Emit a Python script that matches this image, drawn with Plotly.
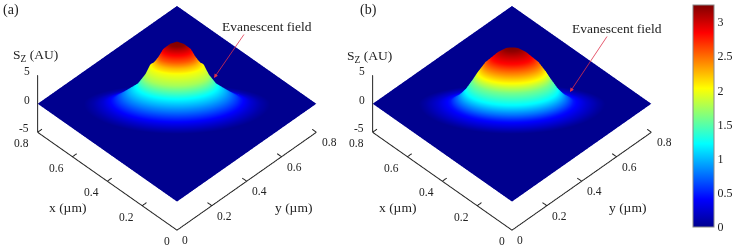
import numpy as np
import plotly.graph_objects as go

W, H = 734, 248
FONT = "Liberation Serif"
INK = "#222222"

# ----- values -----
radius_a = [0, .03, .057, .075, .089, .10, .11, .118, .13, .163, .20, .23, .26, .30, .34, .38]
height_a = [10.9, 10.4, 9.5, 8.2, 7.4, 6.9, 6.7, 6.0, 5.0, 3.2, 2.2, 1.4, .7, .2, 0, 0]
power_a = [3.25, 3.2, 2.9, 2.55, 2.25, 2.1, 2.0, 1.9, 1.75, 1.25, .95, .7, .47, .25, .1, 0]

radius_b = [0, .03, .06, .085, .11, .14, .16, .19, .22, .25, .30, .35, .38]
height_b = [9.8, 9.6, 8.9, 8.0, 7.1, 5.4, 4.1, 2.3, 1.1, .4, .05, 0, 0]
power_b = [3.25, 3.2, 3.0, 2.8, 2.5, 2.0, 1.6, 1.2, .78, .47, .25, .08, 0]

xy_ticks = [0, .2, .4, .6, .8]
xy_tick_labels = ["0", "0.2", "0.4", "0.6", "0.8"]
z_ticks = [-5, 0, 5]
z_tick_labels = ["-5", "0", "5"]
bar_ticks = [0, .5, 1, 1.5, 2, 2.5, 3]
bar_tick_labels = ["0", "0.5", "1", "1.5", "2", "2.5", "3"]

JET = [[0, "#00008f"], [.125, "#0000ff"], [.375, "#00ffff"], [.625, "#ffff00"], [.875, "#ff0000"], [1, "#800000"]]
CMAX = 3.25
SPAN = .8
Z_RANGE = [-19.8, 12.7]
DEPTH_FRONT, DEPTH_BACK = .46, .30
EYE_DIST = 2.2
ELEV = np.radians(44.6)
ZOOM = 1.59


def rings(radius, height, power):
    """Surface on rings of the radial profile, the outer ring running along the square's edge."""
    theta = np.radians(np.arange(0, 361, 2))
    r = np.array(radius)[:, None]
    depth = np.where(np.sin(theta) > 0, DEPTH_FRONT, DEPTH_BACK)
    u = r * np.cos(theta)
    v = r * np.sin(theta) * depth
    sx = (u - v) / np.sqrt(2)
    sy = (-u - v) / np.sqrt(2)
    rim = (SPAN / 2) / np.maximum(np.abs(np.cos(theta + np.pi / 4)), np.abs(np.sin(theta + np.pi / 4)))
    sx = np.vstack([sx, rim * np.cos(theta + np.pi / 4)])
    sy = np.vstack([sy, -rim * np.sin(theta + np.pi / 4)])
    z = np.vstack([np.repeat(np.array(height)[:, None], theta.size, 1), np.zeros(theta.size)])
    c = np.vstack([np.repeat(np.array(power)[:, None], theta.size, 1), np.zeros(theta.size)])
    return SPAN / 2 + sx, SPAN / 2 + sy, z, c


def add_panel(fig, scene, radius, height, power, showscale):
    sx, sy, z, c = rings(radius, height, power)
    fig.add_trace(go.Surface(
        x=sx, y=sy, z=z, surfacecolor=c, scene=scene, colorscale=JET, cmin=0, cmax=CMAX,
        showscale=showscale, hoverinfo="skip",
        lighting=dict(ambient=1, diffuse=0, specular=0, roughness=1, fresnel=0),
        colorbar=dict(x=693 / W, xanchor="left", xpad=0, y=1 - 5 / H, yanchor="top", ypad=0,
                      len=222 / H, lenmode="fraction", thickness=21, thicknessmode="pixels",
                      outlinecolor="#888888", outlinewidth=1, ticks="", tickmode="array",
                      tickvals=bar_ticks, ticktext=bar_tick_labels,
                      tickfont=dict(family=FONT, size=12, color="#222222")),
    ))
    # axis frame: labelled y runs along scene x, labelled x along scene y
    fig.add_trace(go.Scatter3d(
        x=[0, 0, SPAN, None, 0, 0], y=[SPAN, 0, 0, None, SPAN, SPAN], z=[-5, -5, -5, None, -5, 5],
        mode="lines", line=dict(color=INK, width=2), scene=scene, hoverinfo="skip", showlegend=False))
    tx, ty, tz = [], [], []
    t = .025
    for v in xy_ticks[1:]:
        tx += [v, v, None, 0, t, None]
        ty += [0, t, None, v, v, None]
        tz += [-5, -5, None, -5, -5, None]
    for v in z_ticks:
        tx += [0, 0, None]
        ty += [SPAN, SPAN + t, None]
        tz += [v, v, None]
    fig.add_trace(go.Scatter3d(x=tx, y=ty, z=tz, mode="lines", line=dict(color=INK, width=2),
                               scene=scene, hoverinfo="skip", showlegend=False))


def tick_notes():
    notes = []
    f = dict(family=FONT, size=11.5, color="#222222")
    for v, s in zip(xy_ticks, xy_tick_labels):
        notes.append(dict(x=0, y=v, z=-5, text=s, showarrow=False, font=f, xshift=-10 if v == 0 else -16, yshift=-11))
        notes.append(dict(x=v, y=0, z=-5, text=s, showarrow=False, font=f, xshift=8 if v == 0 else 13, yshift=-10))
    for v, s in zip(z_ticks, z_tick_labels):
        notes.append(dict(x=0, y=SPAN, z=v, text=s, showarrow=False, font=f, xshift=-14 if v < 0 else -11, yshift=4))
    return notes


def scene_layout(left, right):
    hidden = dict(visible=False, showspikes=False)
    return dict(
        domain=dict(x=[left / W, right / W], y=[0, 1]),
        xaxis=dict(range=[0, SPAN], **hidden), yaxis=dict(range=[0, SPAN], **hidden),
        zaxis=dict(range=Z_RANGE, **hidden),
        aspectmode="manual", aspectratio=dict(x=ZOOM, y=ZOOM, z=1.32 * ZOOM),
        camera=dict(projection=dict(type="orthographic"), up=dict(x=0, y=0, z=1), center=dict(x=0, y=0, z=0),
                    eye=dict(x=-EYE_DIST * np.cos(ELEV) / np.sqrt(2), y=-EYE_DIST * np.cos(ELEV) / np.sqrt(2),
                             z=EYE_DIST * np.sin(ELEV))),
        annotations=tick_notes(), bgcolor="white",
    )


def label(px, py, text, size=13.5):
    return dict(x=px / W, y=1 - py / H, xref="paper", yref="paper", text=text, showarrow=False,
                font=dict(family=FONT, size=size, color="#222222"), xanchor="center", yanchor="middle")


def arrow(x0, y0, x1, y1):
    return dict(x=x1 / W, y=1 - y1 / H, xref="paper", yref="paper", ax=x0 - x1, ay=y0 - y1, axref="pixel", ayref="pixel",
                text="", showarrow=True, arrowhead=2, arrowsize=1, arrowwidth=.8, arrowcolor="#e0304a")


fig = go.Figure()
add_panel(fig, "scene", radius_a, height_a, power_a, False)
add_panel(fig, "scene2", radius_b, height_b, power_b, True)

fig.update_layout(
    width=W, height=H, margin=dict(l=0, r=0, t=0, b=0), paper_bgcolor="white", showlegend=False,
    scene=scene_layout(10, 344), scene2=scene_layout(345, 679),
    annotations=[
        label(11, 10, "(a)", 14), label(368, 10, "(b)", 14),
        label(35, 55, "S<sub>Z</sub> (AU)"), label(369, 56, "S<sub>Z</sub> (AU)"),
        label(67, 207, "x (µm)"), label(293, 207, "y (µm)"),
        label(397, 207, "x (µm)"), label(627, 207, "y (µm)"),
        label(267, 26, "Evanescent field"), label(617, 28, "Evanescent field"),
        arrow(245, 33, 214, 78), arrow(608, 35, 570, 92),
    ],
)
fig.write_html("out.html", config=dict(displayModeBar=False),
               post_script="document.body.style.margin='0';document.body.style.overflow='hidden';")
